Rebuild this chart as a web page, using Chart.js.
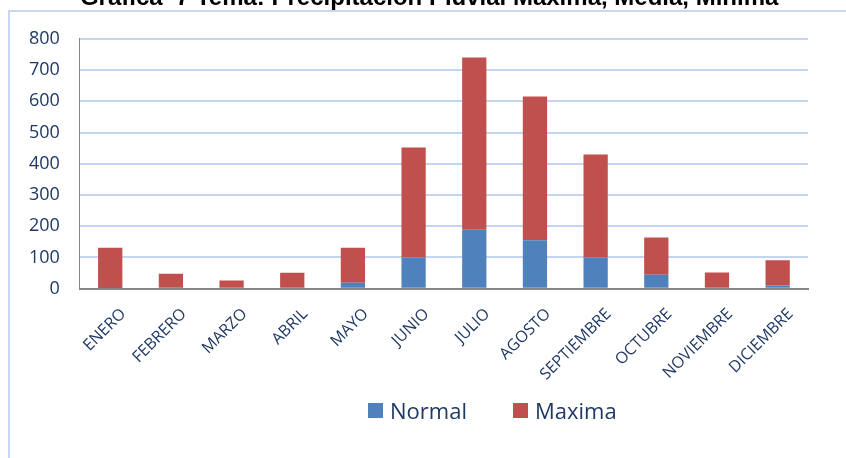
<!DOCTYPE html>
<html>
<head>
<meta charset="utf-8">
<script src="https://cdn.jsdelivr.net/npm/chart.js@4"></script>
<style>
  html, body { margin: 0; padding: 0; background: #fff; overflow: hidden; }
  body { width: 846px; height: 458px; position: relative; }
  #frame { position: absolute; left: 8px; top: 10px; width: 900px; height: 500px; border: 2px solid #c6d9f0; }
  #wrap { position: absolute; left: 0; top: -16px; width: 846px; height: 474px; }
  #legend { position: absolute; top: 395px; left: 368px; font-family: 'Open Sans', sans-serif; font-size: 22px; color: #1f3864; white-space: nowrap; }
  #legend span.item { display: inline-block; margin-right: 46px; }
  #legend span.box { display: inline-block; width: 15px; height: 15px; margin-right: 7px; vertical-align: 1px; }
</style>
</head>
<body>
<div id="frame"></div>
<div id="wrap"><canvas id="chart"></canvas></div>
<div id="legend"></div>
<script>
const months = ['ENERO', 'FEBRERO', 'MARZO', 'ABRIL', 'MAYO', 'JUNIO', 'JULIO', 'AGOSTO', 'SEPTIEMBRE', 'OCTUBRE', 'NOVIEMBRE', 'DICIEMBRE'];
const normal = [2, 0, 0, 0, 19, 100, 189, 155, 100, 45, 0, 10];
const maxima = [129, 48, 26, 51, 112, 352, 551, 460, 330, 119, 52, 81];
const titleText = 'Grafica  7 Tema: Precipitación Pluvial Maxima, Media, Minima';

const textColor = '#1f3864';
const ctx = document.getElementById('chart').getContext('2d');

const chart = new Chart(ctx, {
    type: 'bar',
    data: {
        labels: months,
        datasets: [{
            label: 'Normal',
            data: normal,
            backgroundColor: '#4f81bd'
        }, {
            label: 'Maxima',
            data: maxima,
            backgroundColor: '#c0504d'
        }]
    },
    options: {
        responsive: true,
        maintainAspectRatio: false,
        animation: false,
        events: [],
        datasets: { bar: { categoryPercentage: 1, barPercentage: 0.4 } },
        layout: { padding: { left: 9, right: 38, bottom: 58 } },
        plugins: {
            legend: { display: false },
            tooltip: { enabled: false },
            title: {
                display: true,
                fullSize: false,
                align: 'start',
                text: titleText,
                color: '#000',
                font: { family: 'Liberation Sans', size: 24, weight: 'bold' },
                padding: { top: 0, bottom: 26 }
            }
        },
        scales: {
            x: {
                stacked: true,
                grid: { display: false, drawTicks: false },
                border: { display: true, color: '#868686', width: 2 },
                ticks: {
                    color: textColor,
                    font: { family: 'Open Sans', size: 16 },
                    minRotation: 45,
                    maxRotation: 45,
                    labelOffset: 13,
                    padding: 16
                }
            },
            y: {
                stacked: true,
                min: 0,
                max: 800,
                grid: { color: '#c2d6ef', lineWidth: 2, drawTicks: false },
                border: { display: true, color: '#868686', width: 1 },
                ticks: {
                    stepSize: 100,
                    color: textColor,
                    font: { family: 'Open Sans', size: 18 },
                    padding: 20
                }
            }
        }
    }
});

// leyenda en HTML, tomada de los datasets
const legend = document.getElementById('legend');
chart.data.datasets.forEach(ds => {
    const item = document.createElement('span');
    item.className = 'item';
    const box = document.createElement('span');
    box.className = 'box';
    box.style.background = ds.backgroundColor;
    item.appendChild(box);
    item.appendChild(document.createTextNode(ds.label));
    legend.appendChild(item);
});
</script>
</body>
</html>
